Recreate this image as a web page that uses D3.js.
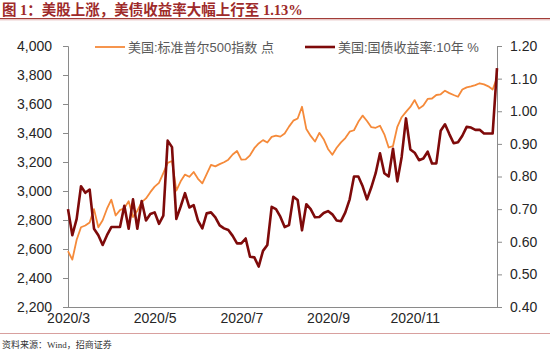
<!DOCTYPE html>
<html><head><meta charset="utf-8">
<script src="https://cdn.jsdelivr.net/npm/d3@7"></script>
<style>body{margin:0;background:#fff;}svg{display:block;}</style>
</head><body>
<svg id="c" width="550" height="352"></svg>
<script>
// Sampled every second trading day, 2020-03-31 .. 2021-01-12
const spx = [2585,2527,2664,2750,2762,2783,2875,2750,2798,2878,2940,2831,2868,2881,2930,2820,2864,2923,2949,2992,
3030,3056,3123,3194,3207,3002,3067,3113,3098,3131,3084,3053,3116,3180,3170,3185,3198,3216,3252,3276,
3216,3218,3246,3295,3328,3351,3334,3373,3382,3375,3397,3444,3485,3500,3581,3427,3380,3341,3401,3357,
3290,3250,3298,3335,3365,3409,3419,3477,3520,3483,3440,3436,3450,3391,3300,3310,3443,3509,3546,3580,
3627,3568,3590,3635,3638,3662,3667,3692,3675,3662,3650,3700,3715,3722,3730,3743,3735,3722,3700,3780];
const ust10y = [0.70,0.62,0.67,0.77,0.75,0.76,0.64,0.62,0.59,0.62,0.645,0.645,0.645,0.71,0.64,0.73,0.64,0.725,0.665,0.685,
0.69,0.655,0.68,0.91,0.89,0.67,0.708,0.749,0.705,0.712,0.665,0.641,0.687,0.69,0.675,0.65,0.641,0.636,0.618,0.595,
0.595,0.61,0.554,0.552,0.524,0.572,0.59,0.707,0.70,0.677,0.645,0.651,0.738,0.728,0.635,0.715,0.70,0.675,0.676,0.688,
0.694,0.684,0.665,0.663,0.69,0.73,0.80,0.80,0.77,0.73,0.767,0.81,0.871,0.81,0.80,0.885,0.785,0.86,0.978,0.883,
0.873,0.85,0.855,0.876,0.84,0.84,0.94,0.96,0.93,0.902,0.905,0.925,0.952,0.95,0.943,0.943,0.932,0.932,0.932,1.132];
const xTickIdx = [0,20,40,60,80];
const xTickLabels = ["2020/3","2020/5","2020/7","2020/9","2020/11"];
const leftTicks = [2200,2400,2600,2800,3000,3200,3400,3600,3800,4000];
const rightTicks = [0.40,0.50,0.60,0.70,0.80,0.90,1.00,1.10,1.20];
const seriesNames = ["美国:标准普尔500指数 点","美国:国债收益率:10年 %"];
const titleText = "图 1：美股上涨，美债收益率大幅上行至 1.13%";
const sourceText = "资料来源：Wind，招商证券";

const svg = d3.select("#c");
const L = 68, R = 497, T = 46, B = 307;
const x = d3.scaleLinear().domain([0, spx.length-1]).range([L, R]);
const yL = d3.scaleLinear().domain([2200,4000]).range([B, T]);
const yR = d3.scaleLinear().domain([0.4,1.2]).range([B, T]);
const axisCol = "#8a8a8a";
const orange = "#F58A3A", maroon = "#7E0A0A";

// title
svg.append("text").attr("x",2).attr("y",15)
  .style("font-family","'Liberation Serif','Noto Sans CJK SC'").style("font-weight","bold")
  .style("font-size","14.5px").attr("fill","#9E2A2A").text(titleText);
svg.append("line").attr("x1",0).attr("x2",550).attr("y1",18.5).attr("y2",18.5).attr("stroke","#A23C38").attr("stroke-width",1.2);
svg.append("line").attr("x1",0).attr("x2",550).attr("y1",19.8).attr("y2",19.8).attr("stroke","#DDB0AE").attr("stroke-width",1);

// footer
svg.append("line").attr("x1",0).attr("x2",550).attr("y1",333.5).attr("y2",333.5).attr("stroke","#D8A09E").attr("stroke-width",1);
svg.append("text").attr("x",2).attr("y",347.5)
  .style("font-family","'Liberation Serif','Noto Sans CJK SC'").style("font-size","9px")
  .attr("fill","#333").text(sourceText);

// axes
const fontAx = "'Liberation Sans', Arial, sans-serif";
const gl = svg.append("g").attr("transform",`translate(${L},0)`)
  .call(d3.axisLeft(yL).tickValues(leftTicks).tickSize(5).tickPadding(11).tickFormat(d3.format(",")));
const gr = svg.append("g").attr("transform",`translate(${R},0)`)
  .call(d3.axisRight(yR).tickValues(rightTicks).tickSize(5).tickPadding(8).tickFormat(d3.format(".2f")));
const gb = svg.append("g").attr("transform",`translate(0,${B})`)
  .call(d3.axisBottom(x).tickValues(xTickIdx).tickSize(0).tickPadding(6).tickFormat((d,i)=>xTickLabels[i]));
[gl,gr,gb].forEach(g=>{
  g.select(".domain").attr("stroke",axisCol);
  g.selectAll(".tick line").attr("stroke",axisCol);
  g.selectAll(".tick text").style("font-family",fontAx).style("font-size","14px").attr("fill","#262626");
});
gb.select(".domain").attr("d",`M${L},0.5H${R}`);

// lines
const lineL = d3.line().x((d,i)=>x(i)).y(d=>yL(d));
const lineR = d3.line().x((d,i)=>x(i)).y(d=>yR(d));
svg.append("path").datum(spx).attr("d",lineL).attr("fill","none").attr("stroke",orange).attr("stroke-width",1.8).attr("stroke-linejoin","round");
svg.append("path").datum(ust10y).attr("d",lineR).attr("fill","none").attr("stroke",maroon).attr("stroke-width",2.6).attr("stroke-linejoin","round");

// legend
const legFont = "'Liberation Sans','Noto Sans CJK SC'";
const leg = [{x1:95,x2:125,tx:128,c:orange,w:1.8},{x1:305,x2:335,tx:338,c:maroon,w:2.6}];
leg.forEach((l,i)=>{
  svg.append("line").attr("x1",l.x1).attr("x2",l.x2).attr("y1",47).attr("y2",47).attr("stroke",l.c).attr("stroke-width",l.w);
  svg.append("text").attr("x",l.tx).attr("y",51.5).style("font-family",legFont).style("font-size","13px")
    .attr("fill","#595959").text(seriesNames[i]);
});
</script>
</body></html>
